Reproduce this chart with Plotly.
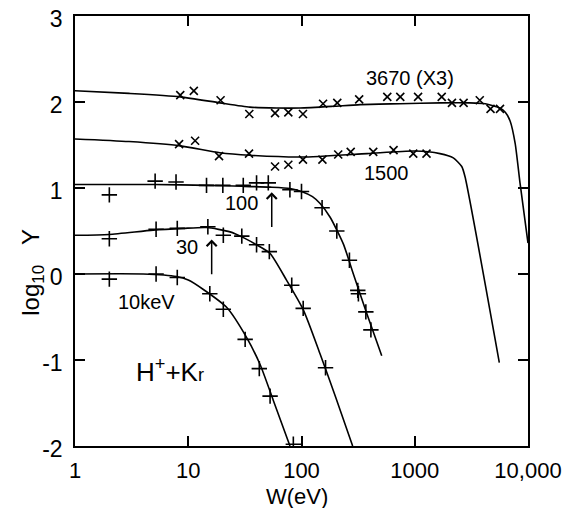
import plotly.graph_objects as go
import math

# ---- fitted curves (W in eV, log10 Y) ----
c3670_x = [1, 3, 8.5, 19, 35, 60, 97, 190, 330, 740, 1700, 3000, 4200, 5650, 6300, 6950, 7700, 8500, 10000]
c3670_y = [2.13, 2.10, 2.06, 1.99, 1.94, 1.93, 1.93, 1.95, 1.97, 1.98, 1.99, 1.99, 1.98, 1.93, 1.88, 1.78, 1.52, 1.06, 0.36]

c1500_x = [1, 3, 8.5, 19, 35, 100, 380, 1000, 1670, 2190, 2600, 2780, 5580]
c1500_y = [1.57, 1.54, 1.49, 1.41, 1.38, 1.36, 1.40, 1.43, 1.40, 1.35, 1.25, 1.13, -1.03]

c100_x = [1, 5, 15, 30, 53, 79, 100, 125, 146, 179, 234, 287, 377, 511]
c100_y = [1.04, 1.04, 1.03, 1.02, 1.01, 0.995, 0.96, 0.90, 0.82, 0.66, 0.35, 0.0, -0.46, -0.95]

c30_x = [1, 2, 4.9, 9, 14.5, 23.4, 31, 40, 52.7, 74, 104, 146, 200, 283]
c30_y = [0.45, 0.46, 0.51, 0.53, 0.54, 0.49, 0.42, 0.34, 0.24, -0.075, -0.42, -0.93, -1.43, -2.0]

c10_x = [1, 4, 7.9, 10, 13.6, 21.9, 32.8, 43, 56.4, 79.1]
c10_y = [0.0, 0.0, -0.03, -0.07, -0.18, -0.39, -0.74, -1.05, -1.47, -2.0]

# ---- measured points ----
m3670_x = [8.5, 11.2, 19.3, 34.6, 58.4, 76.5, 103, 155, 207, 323, 572, 745, 1070, 1730, 2130, 2700, 3750, 4670, 5660]
m3670_y = [2.08, 2.13, 2.02, 1.86, 1.87, 1.88, 1.86, 1.98, 1.99, 2.03, 2.06, 2.06, 2.06, 2.06, 1.99, 1.99, 2.02, 1.92, 1.92]

m1500_x = [8.3, 11.5, 18.7, 34.4, 58.4, 76.5, 103, 153, 211, 272, 430, 650, 970, 1270]
m1500_y = [1.51, 1.55, 1.37, 1.40, 1.25, 1.27, 1.33, 1.33, 1.39, 1.42, 1.42, 1.44, 1.40, 1.40]

m100_x = [2.01, 5.1, 7.8, 14.5, 20.2, 30.6, 40.1, 50.9, 79, 100, 152, 205, 265, 314, 318, 370, 410]
m100_y = [0.92, 1.08, 1.07, 1.03, 1.03, 1.03, 1.06, 1.06, 0.98, 0.96, 0.77, 0.50, 0.16, -0.19, -0.23, -0.44, -0.65]

m30_x = [2.01, 5.2, 8.0, 14.9, 20.4, 29.7, 40.1, 52, 82, 103.5, 163]
m30_y = [0.41, 0.52, 0.53, 0.55, 0.45, 0.44, 0.34, 0.26, -0.13, -0.40, -1.09]

m10_x = [2.01, 5.2, 8.0, 15.5, 20.4, 31.8, 42.4, 52.8, 84.7]
m10_y = [-0.06, 0.0, -0.04, -0.23, -0.41, -0.76, -1.10, -1.42, -1.98]

x_ticks = [1, 10, 100, 1000, 10000]
x_ticktext = ["1", "10", "100", "1000", "10,000"]
y_ticks = [-2, -1, 0, 1, 2, 3]
y_ticktext = ["-2", "-1", "0", "1", "2", "3"]

FONT = "Liberation Sans, Arial, Helvetica, sans-serif"

fig = go.Figure()

for cx, cy in [(c3670_x, c3670_y), (c1500_x, c1500_y), (c100_x, c100_y), (c30_x, c30_y), (c10_x, c10_y)]:
    fig.add_trace(go.Scatter(x=cx, y=cy, mode="lines",
                             line=dict(color="black", width=1.6, shape="spline", smoothing=0.6),
                             showlegend=False, hoverinfo="skip"))

for mx, my in [(m3670_x, m3670_y), (m1500_x, m1500_y)]:
    fig.add_trace(go.Scatter(x=mx, y=my, mode="markers",
                             marker=dict(symbol="x-thin", size=8, line=dict(color="black", width=1.6)),
                             showlegend=False))
for mx, my in [(m100_x, m100_y), (m30_x, m30_y), (m10_x, m10_y)]:
    fig.add_trace(go.Scatter(x=mx, y=my, mode="markers",
                             marker=dict(symbol="cross-thin", size=11, line=dict(color="black", width=1.6)),
                             showlegend=False))

ann = []
def label(x, y, text, size=20):
    ann.append(dict(x=math.log10(x), y=y, xref="x", yref="y", text=text, showarrow=False,
                    xanchor="center", yanchor="middle",
                    font=dict(family=FONT, size=size, color="black")))

label(908, 2.28, "3670 (X3)")
label(565, 1.17, "1500")
label(29.6, 0.82, "100")
label(9.7, 0.31, "30")
label(4.3, -0.33, "10keV")
label(6.9, -1.12, "H<sup>+</sup>+K<span style='font-size:18px'>r</span>", size=26)

# arrows
for ax_, tip, tail in [(54.6, 0.95, 0.53), (16.1, 0.40, -0.02)]:
    ann.append(dict(x=math.log10(ax_), y=tip, ax=math.log10(ax_), ay=tail,
                    xref="x", yref="y", axref="x", ayref="y", text="", showarrow=True,
                    arrowhead=4, arrowsize=1.3, arrowwidth=1.5, arrowcolor="black"))

# axis titles
ann.append(dict(x=-0.093, y=0.405, xref="paper", yref="paper", xanchor="center", yanchor="middle",
                text="log<sub>10</sub>&nbsp;&nbsp;&nbsp;Y",
                textangle=-90, showarrow=False, font=dict(family=FONT, size=24, color="black")))
ann.append(dict(x=0.49, y=-0.118, xref="paper", yref="paper", xanchor="center", yanchor="middle",
                text="W(eV)",
                showarrow=False, font=dict(family=FONT, size=22, color="black")))

# page body has an 8px margin, so the figure is sized/offset to keep the plot frame in place
fig.update_layout(
    width=567, height=500,
    margin=dict(l=67, r=47, t=8, b=62),
    paper_bgcolor="white", plot_bgcolor="white",
    annotations=ann,
    font=dict(family=FONT, color="black"),
)
fig.update_xaxes(type="log", range=[0, 4], tickvals=x_ticks, ticktext=x_ticktext,
                 ticks="inside", ticklen=10, tickwidth=1.5, tickcolor="black",
                 showline=True, linecolor="black", linewidth=1.5, mirror="ticks",
                 showgrid=False, zeroline=False, ticklabelstandoff=4, automargin=False,
                 ticklabeloverflow="allow",
                 tickfont=dict(family=FONT, size=22, color="black"))
fig.update_yaxes(range=[-2, 3], tickvals=y_ticks, ticktext=y_ticktext,
                 ticks="inside", ticklen=10, tickwidth=1.5, tickcolor="black",
                 showline=True, linecolor="black", linewidth=1.5, mirror="ticks",
                 showgrid=False, zeroline=False, ticklabelstandoff=6, automargin=False,
                 ticklabeloverflow="allow", ticklabelshift=3,
                 tickfont=dict(family=FONT, size=23, color="black"))

fig.write_html("out.html")
